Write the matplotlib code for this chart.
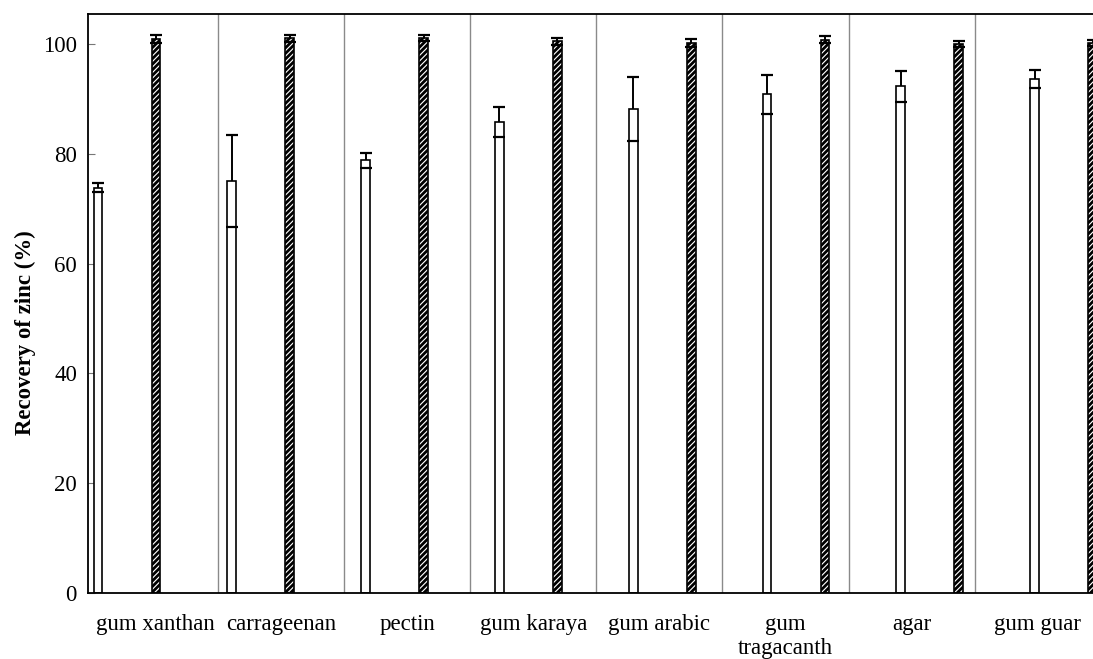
#!/usr/bin/env python3
# -*- coding: utf-8 -*-

import numpy as np
import matplotlib
matplotlib.use("Agg")
import matplotlib.pyplot as plt

plt.rcParams['font.family'] = ['Liberation Serif', 'DejaVu Serif']
plt.rcParams['hatch.linewidth'] = 2.0

# data
categories = ['gum xanthan', 'carrageenan', 'pectin', 'gum karaya',
              'gum arabic', 'gum\ntragacanth', 'agar', 'gum guar']
white_vals = [73.8, 75.0, 78.8, 85.8, 88.2, 90.8, 92.3, 93.6]
white_err = [0.8, 8.4, 1.4, 2.7, 5.8, 3.6, 2.8, 1.7]
hatch_vals = [100.9, 101.0, 101.1, 100.5, 100.2, 100.8, 100.0, 100.2]
hatch_err = [0.7, 0.7, 0.5, 0.6, 0.7, 0.7, 0.6, 0.5]
yticks = [0, 20, 40, 60, 80, 100]

n = len(categories)
idx = np.arange(n)

# layout (group units: each category spans one unit)
bar_w = 0.07
x_white = 0.048 + 1.061 * idx
x_hatch = x_white + 0.46
x0, x1 = -0.031, 8.0
unit = 126.1  # pixels per group

fig = plt.figure(figsize=(10.93, 6.59), dpi=100)
ax = fig.add_axes([88 / 1093, 1 - 593 / 659, (x1 - x0) * unit / 1093, 579 / 659])

ax.bar(x_white, white_vals, width=bar_w, color='white', edgecolor='black',
       linewidth=1.2, zorder=2)
ax.bar(x_hatch, hatch_vals, width=bar_w, color='white', edgecolor='black',
       hatch='//////', linewidth=1.2, zorder=2)

for xs, vals, errs in [(x_white, white_vals, white_err), (x_hatch, hatch_vals, hatch_err)]:
    eb = ax.errorbar(xs, vals, yerr=errs, fmt='none', ecolor='black',
                     elinewidth=1.4, capsize=4.5, capthick=1.6, zorder=1)
    for c in eb[1]:
        c.set_zorder(3)

for k in range(1, n):
    ax.axvline(k, color='#8a8a8a', linewidth=1.0, zorder=0)

ax.set_xlim(x0, x1)
ax.set_ylim(0, 105.46)
ax.set_yticks(yticks)
ax.set_xticks(idx + 0.5)
ax.set_xticklabels(categories, fontsize=16.5, linespacing=1.22)
ax.tick_params(axis='x', length=0, pad=15)
ax.tick_params(axis='y', direction='in', length=5, color='#777777',
               labelsize=16.5, pad=8)
ax.set_ylabel('Recovery of zinc (%)', fontsize=16.5, fontweight='bold', labelpad=5)
ax.yaxis.label.set_y(0.45)

for s in ['left', 'top', 'bottom']:
    ax.spines[s].set_linewidth(1.3)
ax.spines['right'].set_visible(False)

fig.savefig('out.png', dpi=100)
